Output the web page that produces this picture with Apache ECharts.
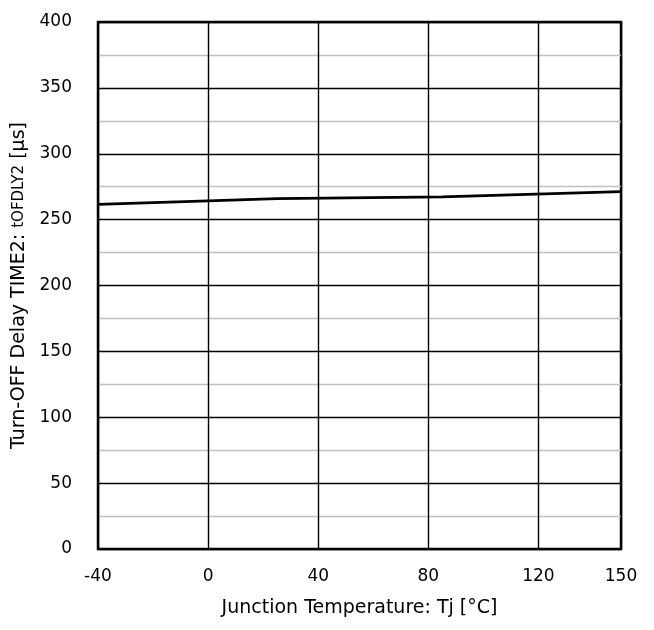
<!DOCTYPE html>
<html><head><meta charset="utf-8">
<script src="https://cdn.jsdelivr.net/npm/echarts@6/dist/echarts.min.js"></script>
<style>html,body{margin:0;padding:0;background:#fff}#c{width:654px;height:630px}</style>
</head><body><div id="c"></div>
<script>
var temps = [-40, 0, 25, 85, 150];
var delay = [261.5, 264.3, 266.0, 267.3, 271.2];
var xTicks = [-40, 0, 40, 80, 120, 150];
var yTicks = [0, 50, 100, 150, 200, 250, 300, 350, 400];

var chart = echarts.init(document.getElementById('c'));
var font = 'DejaVu Sans, Verdana, sans-serif';
chart.setOption({
  animation: false,
  grid: {left: 98, right: 33, top: 22, bottom: 81, show: true, borderColor: '#000', borderWidth: 2.5, backgroundColor: 'transparent'},
  xAxis: {
    type: 'value', min: xTicks[0], max: xTicks[xTicks.length-1], interval: 40,
    axisLine: {show: false}, axisTick: {show: false},
    axisLabel: {color: '#000', fontSize: 17, fontFamily: font, margin: 19, showMaxLabel: true, showMinLabel: true},
    splitLine: {show: true, lineStyle: {color: '#000', width: 1.4}},
    name: 'Junction Temperature: Tj [°C]', nameLocation: 'middle', nameGap: 50,
    nameTextStyle: {color: '#000', fontSize: 19, fontFamily: font}
  },
  yAxis: {
    type: 'value', min: yTicks[0], max: yTicks[yTicks.length-1], interval: 50,
    axisLine: {show: false}, axisTick: {show: false},
    axisLabel: {color: '#000', fontSize: 17, fontFamily: font, margin: 26},
    splitLine: {show: true, lineStyle: {color: '#000', width: 1.4}},
    minorTick: {show: false, splitNumber: 2},
    minorSplitLine: {show: true, lineStyle: {color: '#c0c0c0', width: 1.3}},
    name: '{a|Turn-OFF Delay TIME2: }{b|tOFDLY2}{a| [μs]}', nameLocation: 'middle', nameGap: 66, nameRotate: 90,
    nameTextStyle: {color: '#000', fontFamily: font,
      rich: {a: {fontSize: 19, fontFamily: font, color: '#000'}, b: {fontSize: 15, fontFamily: font, color: '#000'}}}
  },
  series: [{
    type: 'line', data: temps.map(function(t, i){ return [t, delay[i]]; }),
    showSymbol: false, symbol: 'none', lineStyle: {color: '#000', width: 2.7}, z: 5
  }]
});
</script></body></html>
